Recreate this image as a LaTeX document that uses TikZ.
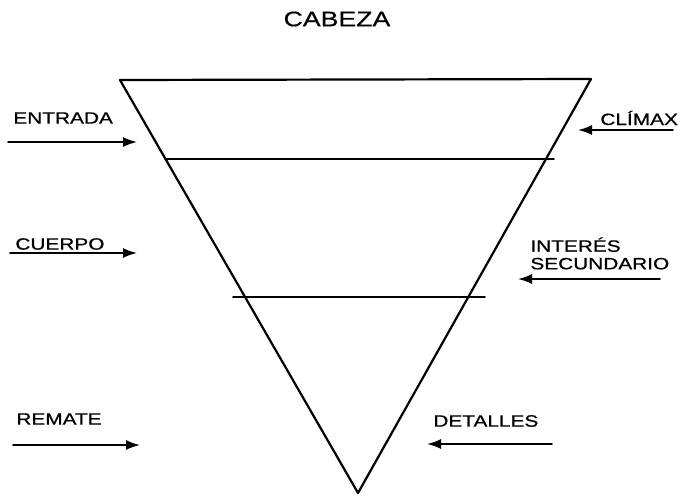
\documentclass[tikz,border=0pt]{standalone}
\usepackage{fontspec}
\usetikzlibrary{arrows.meta}
\newfontfamily\lblfont[FakeStretch=1.27,FakeBold=0.6]{Liberation Sans}
\begin{document}
\begin{tikzpicture}[x=0.5pt, y=-0.5pt, line join=round, line cap=round, >={Latex[length=7pt,width=5pt]},
	lbl/.style={anchor=west, inner sep=0pt, align=left, font=\lblfont\fontsize{8.2}{8.8}\selectfont}]
		\useasboundingbox (0,0) rectangle (682,499);
		\coordinate (A) at (120,80);
		\coordinate (B) at (591,79);
		\coordinate (C) at (358,493);
		\draw[line width=1.1pt] (A)--(B)--(C)--cycle;
		\draw[line width=.9pt] (165,159)--(554,159) (233,297)--(485,297);
		\node[inner sep=0pt, font=\lblfont\fontsize{10.5}{12}\selectfont] (cabeza) at (337,19) {CABEZA};
		\foreach \n/\x/\y/\t in {entrada/13/118/ENTRADA, climax/600/118/CLÍMAX, cuerpo/15/244/CUERPO, remate/16/419/REMATE, detalles/433/421/DETALLES}
		\node[lbl] (\n) at (\x,\y) {\t};
		\node[lbl] (interes) at (530,253.5) {INTERÉS\\SECUNDARIO};
		% flechas
		\coordinate (e1) at (8,142);   \coordinate (e2) at (137,142);
		\coordinate (c1) at (673,130); \coordinate (c2) at (578,130);
		\coordinate (u1) at (10,253);  \coordinate (u2) at (137,253);
		\coordinate (i1) at (660,279); \coordinate (i2) at (518,279);
		\coordinate (r1) at (13,445);  \coordinate (r2) at (140,445);
		\coordinate (d1) at (552,444); \coordinate (d2) at (427,444);
		\foreach \a/\b in {e1/e2, c1/c2, u1/u2, i1/i2, r1/r2, d1/d2}
		\draw[->, line width=.9pt] (\a)--(\b);
\end{tikzpicture}
\end{document}
